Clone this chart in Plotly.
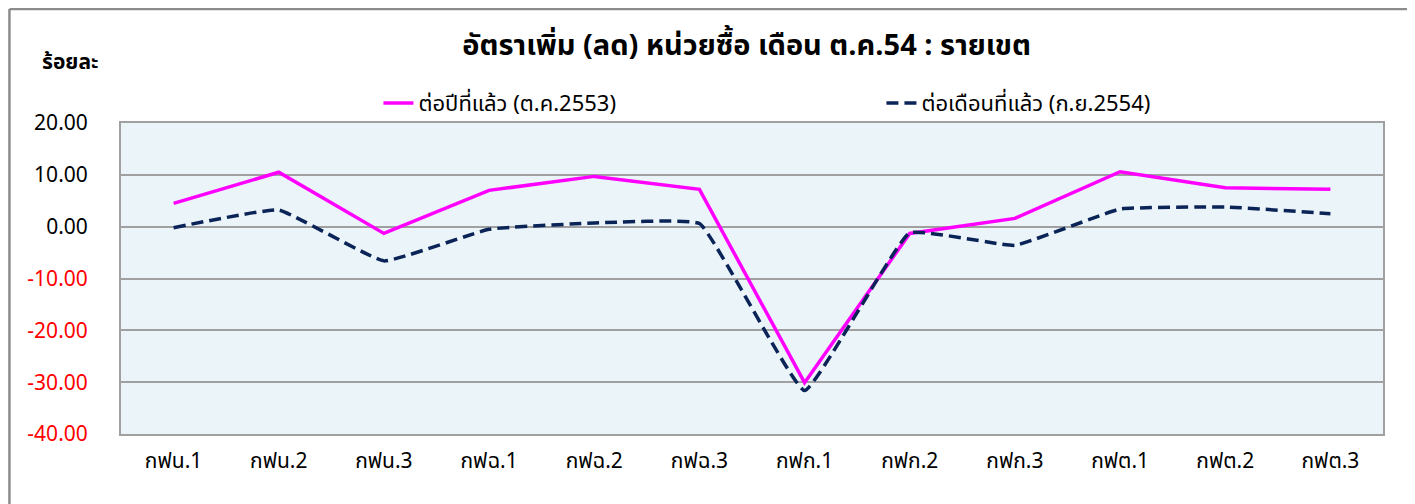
import plotly.graph_objects as go

categories = ["กฟน.1", "กฟน.2", "กฟน.3", "กฟฉ.1", "กฟฉ.2", "กฟฉ.3",
              "กฟก.1", "กฟก.2", "กฟก.3", "กฟต.1", "กฟต.2", "กฟต.3"]
yoy = [4.5, 10.5, -1.3, 7.0, 9.7, 7.2, -30.1, -1.3, 1.6, 10.6, 7.5, 7.2]
mom = [-0.2, 3.2, -6.6, -0.5, 0.7, 0.6, -31.6, -1.2, -3.6, 3.4, 3.8, 2.5]
yoy_name = "ต่อปีที่แล้ว (ต.ค.2553)"
mom_name = "ต่อเดือนที่แล้ว (ก.ย.2554)"
tick_vals = [20, 10, 0, -10, -20, -30, -40]
tick_text = ["20.00", "10.00", "0.00",
             "<span style='color:#FF0000'>-10.00</span>",
             "<span style='color:#FF0000'>-20.00</span>",
             "<span style='color:#FF0000'>-30.00</span>",
             "<span style='color:#FF0000'>-40.00</span>"]
title_text = "อัตราเพิ่ม (ลด) หน่วยซื้อ เดือน ต.ค.54 : รายเขต"
unit_text = "ร้อยละ"

FONT = "Tahoma, 'Noto Sans Thai', Loma, Garuda, 'DejaVu Sans', sans-serif"

fig = go.Figure()
fig.add_trace(go.Scatter(x=categories, y=yoy, name=yoy_name, mode="lines",
                         line=dict(color="#FF00FF", width=3.5)))
fig.add_trace(go.Scatter(x=categories, y=mom, name=mom_name, mode="lines",
                         line=dict(color="#0B2458", width=3.5, dash="12px,6px",
                                   shape="spline", smoothing=0.3)))

fig.update_layout(
    width=1415, height=504,
    margin=dict(l=113, r=40, t=115, b=78),
    paper_bgcolor="white",
    plot_bgcolor="#EBF4F8",
    font=dict(family=FONT, size=20, color="black"),
    title=dict(text="<b>" + title_text + "</b>", x=0.522, xanchor="center",
               y=0.927, yanchor="middle", font=dict(size=29, color="black")),
    legend=dict(orientation="h", x=0.204, xanchor="left", y=1.064, yanchor="middle",
                entrywidth=458, font=dict(size=22), bgcolor="rgba(0,0,0,0)"),
    showlegend=True,
)
fig.update_xaxes(range=[-0.5, 11.5], showline=True, linecolor="#A0A0A0",
                 linewidth=2, mirror=True, showgrid=False, ticks="",
                 tickfont=dict(size=21), ticklabelstandoff=7)
fig.update_yaxes(range=[-40, 20], tickvals=tick_vals, ticktext=tick_text,
                 showline=True, linecolor="#A0A0A0", linewidth=2, mirror=True,
                 showgrid=True, gridcolor="#A0A0A0", gridwidth=1.5,
                 zeroline=False, ticks="", tickfont=dict(size=21),
                 ticklabelstandoff=27)

fig.add_annotation(text="<b>" + unit_text + "</b>", xref="paper", yref="paper",
                   x=-0.0404, y=1.196, xanchor="center", yanchor="middle",
                   showarrow=False, font=dict(size=21))

# outer chart frame
fig.add_shape(type="line", xref="paper", yref="paper", x0=-0.0884, x1=1.04,
              y0=1.3666, y1=1.3666, line=dict(color="#8C8C8C", width=2.5))
fig.add_shape(type="line", xref="paper", yref="paper", x0=-0.0884, x1=-0.0884,
              y0=1.3666, y1=-0.3, line=dict(color="#8C8C8C", width=2.5))

fig.write_html("out.html")
